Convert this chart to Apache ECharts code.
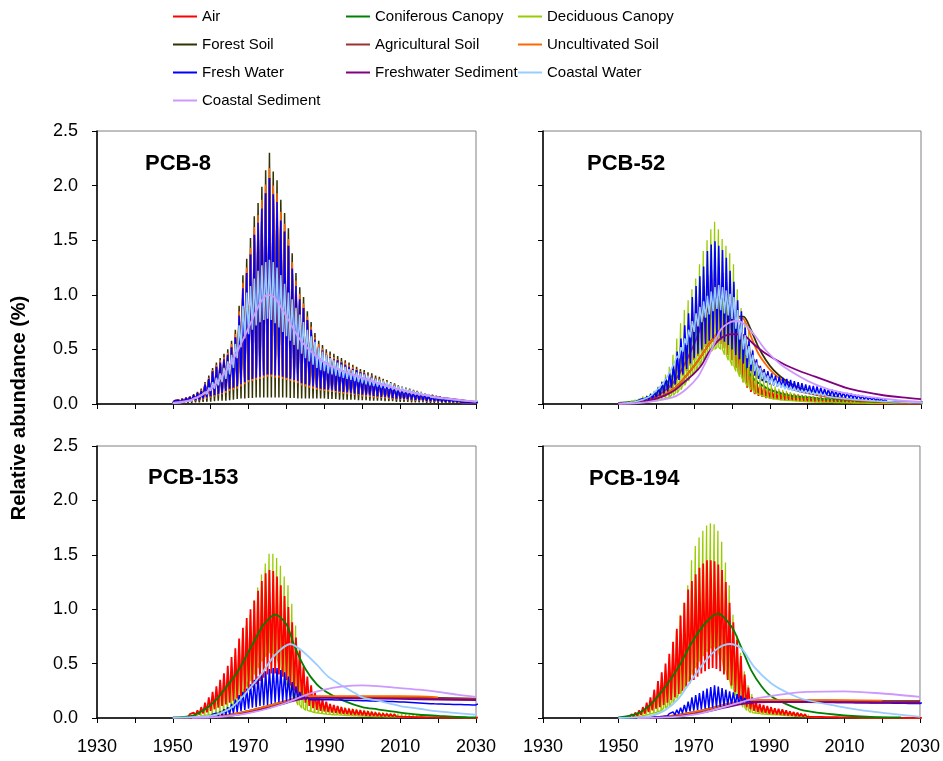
<!DOCTYPE html>
<html>
<head>
<meta charset="utf-8">
<script src="https://cdn.jsdelivr.net/npm/echarts@6/dist/echarts.min.js"></script>
<style>
  html, body { margin: 0; padding: 0; background: #fff; }
  #main { width: 943px; height: 761px; }
</style>
</head>
<body>
<div id="main"></div>
<script>
// compartments, in legend / drawing order
var NAMES = ['Air', 'Coniferous Canopy', 'Deciduous Canopy', 'Forest Soil', 'Agricultural Soil',
    'Uncultivated Soil', 'Fresh Water', 'Freshwater Sediment', 'Coastal Water', 'Coastal Sediment'];
var COLORS = ['#ff0000', '#008000', '#99cc00', '#333300', '#993333',
    '#ff6600', '#0000ff', '#800080', '#99ccff', '#cc99ff'];
var PANELS = ['PCB-8', 'PCB-52', 'PCB-153', 'PCB-194'];
var X_TICKS = [1930, 1950, 1970, 1990, 2010, 2030];

// seasonal series: yearly peak (HI) and trough (LO), 1950 ... 2030
var YEAR0 = 1950;

// ---- PCB-8 ----
var P8_FOREST_HI = [
    0.03,0.04,0.05,0.06,0.07,0.09,0.11,0.14,0.20,0.26,
    0.33,0.38,0.42,0.46,0.50,0.58,0.68,0.90,1.18,1.33,
    1.52,1.72,1.84,1.99,2.14,2.30,2.13,2.05,1.87,1.75,
    1.61,1.38,1.20,1.07,0.98,0.85,0.75,0.65,0.58,0.54,
    0.50,0.48,0.46,0.44,0.42,0.40,0.38,0.36,0.34,0.32,
    0.31,0.29,0.28,0.26,0.25,0.23,0.22,0.20,0.19,0.17,
    0.16,0.15,0.14,0.13,0.12,0.11,0.10,0.09,0.085,0.075,
    0.07,0.06,0.055,0.05,0.045,0.04,0.035,0.03,0.025,0.02,
    0.02];
var P8_FOREST_LO = [
    0.005,0.005,0.01,0.01,0.01,0.01,0.015,0.015,0.02,0.02,
    0.02,0.025,0.03,0.03,0.03,0.035,0.04,0.045,0.05,0.05,
    0.055,0.055,0.06,0.06,0.06,0.06,0.06,0.06,0.06,0.06,
    0.06,0.055,0.055,0.05,0.05,0.05,0.05,0.05,0.05,0.05,
    0.05,0.045,0.045,0.045,0.04,0.04,0.04,0.04,0.04,0.035,
    0.035,0.035,0.03,0.03,0.03,0.03,0.025,0.025,0.025,0.02,
    0.02,0.02,0.02,0.015,0.015,0.015,0.015,0.01,0.01,0.01,
    0.01,0.01,0.01,0.008,0.008,0.006,0.006,0.005,0.005,0.004,
    0.004];
var P8_UNCULT_HI = [
    0.03,0.04,0.05,0.06,0.07,0.08,0.10,0.13,0.19,0.24,
    0.31,0.36,0.40,0.43,0.47,0.55,0.64,0.85,1.11,1.25,
    1.43,1.62,1.73,1.87,2.01,2.16,2.00,1.93,1.76,1.65,
    1.51,1.30,1.13,1.01,0.92,0.80,0.71,0.61,0.55,0.51,
    0.47,0.45,0.43,0.41,0.39,0.38,0.36,0.34,0.32,0.30,
    0.29,0.27,0.26,0.24,0.23,0.22,0.21,0.19,0.18,0.16,
    0.15,0.14,0.13,0.12,0.11,0.10,0.095,0.085,0.08,0.07,
    0.065,0.055,0.05,0.045,0.04,0.035,0.03,0.028,0.024,0.02,
    0.018];
var P8_UNCULT_LO = [
    0.005,0.01,0.01,0.015,0.02,0.025,0.03,0.035,0.04,0.05,
    0.06,0.07,0.08,0.09,0.10,0.12,0.13,0.14,0.16,0.18,
    0.20,0.21,0.22,0.23,0.24,0.25,0.25,0.24,0.24,0.23,
    0.22,0.21,0.20,0.19,0.17,0.16,0.15,0.14,0.13,0.125,
    0.12,0.115,0.11,0.105,0.10,0.095,0.09,0.09,0.085,0.08,
    0.07,0.068,0.065,0.06,0.058,0.055,0.05,0.048,0.045,0.042,
    0.04,0.038,0.035,0.033,0.03,0.028,0.026,0.025,0.023,0.021,
    0.02,0.018,0.017,0.016,0.015,0.014,0.013,0.012,0.011,0.01,
    0.01];
var P8_FRESH_HI = [
    0.03,0.035,0.045,0.055,0.065,0.08,0.10,0.12,0.18,0.23,
    0.30,0.34,0.38,0.41,0.45,0.52,0.61,0.81,1.06,1.20,
    1.37,1.55,1.66,1.79,1.93,2.07,1.92,1.85,1.68,1.58,
    1.45,1.24,1.08,0.96,0.88,0.77,0.68,0.59,0.52,0.49,
    0.45,0.43,0.41,0.40,0.38,0.36,0.34,0.32,0.31,0.29,
    0.28,0.26,0.25,0.23,0.22,0.21,0.20,0.18,0.17,0.15,
    0.14,0.135,0.125,0.115,0.11,0.10,0.09,0.08,0.075,0.068,
    0.063,0.054,0.05,0.045,0.04,0.036,0.032,0.027,0.023,0.018,
    0.018];
var P8_FRESH_LO = [
    0.01,0.015,0.015,0.02,0.025,0.03,0.035,0.04,0.05,0.06,
    0.07,0.08,0.09,0.10,0.12,0.14,0.15,0.16,0.18,0.20,
    0.22,0.23,0.24,0.25,0.26,0.27,0.27,0.26,0.26,0.25,
    0.24,0.23,0.22,0.21,0.19,0.18,0.17,0.16,0.15,0.14,
    0.135,0.13,0.125,0.12,0.115,0.11,0.105,0.10,0.095,0.09,
    0.085,0.08,0.078,0.074,0.07,0.066,0.062,0.058,0.054,0.05,
    0.048,0.045,0.042,0.04,0.037,0.034,0.032,0.03,0.028,0.026,
    0.024,0.022,0.02,0.019,0.018,0.016,0.015,0.014,0.013,0.012,
    0.011];
var P8_COASTAL_HI = [
    0.01,0.015,0.02,0.03,0.04,0.05,0.06,0.08,0.11,0.15,
    0.20,0.24,0.28,0.33,0.39,0.45,0.55,0.72,0.90,1.02,
    1.08,1.15,1.22,1.27,1.30,1.32,1.30,1.25,1.18,1.10,
    1.02,0.96,0.88,0.82,0.75,0.68,0.62,0.57,0.52,0.48,
    0.45,0.42,0.40,0.38,0.36,0.34,0.32,0.31,0.29,0.28,
    0.27,0.26,0.24,0.23,0.22,0.21,0.20,0.19,0.17,0.16,
    0.15,0.14,0.13,0.12,0.11,0.105,0.095,0.09,0.08,0.075,
    0.07,0.065,0.06,0.055,0.05,0.045,0.04,0.035,0.033,0.03,
    0.03];
var P8_COASTAL_LO = [
    0.005,0.01,0.012,0.018,0.025,0.03,0.04,0.05,0.07,0.09,
    0.12,0.14,0.17,0.20,0.23,0.27,0.33,0.42,0.52,0.60,
    0.64,0.68,0.72,0.75,0.77,0.78,0.77,0.74,0.70,0.66,
    0.62,0.58,0.54,0.50,0.46,0.42,0.39,0.36,0.33,0.31,
    0.30,0.28,0.27,0.26,0.25,0.24,0.23,0.22,0.21,0.20,
    0.19,0.18,0.17,0.165,0.16,0.15,0.145,0.14,0.13,0.12,
    0.11,0.105,0.10,0.09,0.085,0.08,0.075,0.07,0.065,0.06,
    0.055,0.05,0.048,0.044,0.04,0.036,0.032,0.03,0.028,0.026,
    0.025];
var P8_COSED = [[1950,0.01],[1955,0.04],[1960,0.14],[1965,0.35],[1968,0.55],[1970,0.70],[1973,0.92],
    [1975,1.00],[1977,0.97],[1980,0.80],[1983,0.62],[1985,0.53],[1990,0.38],[1995,0.30],[2000,0.24],
    [2005,0.18],[2010,0.13],[2015,0.09],[2020,0.06],[2025,0.04],[2030,0.02]];

// ---- PCB-52 ----
var P52_DECID_HI = [
    0.01,0.015,0.02,0.03,0.04,0.05,0.07,0.08,0.10,0.12,
    0.16,0.21,0.27,0.34,0.45,0.60,0.74,0.86,0.95,1.05,
    1.15,1.28,1.40,1.50,1.60,1.67,1.60,1.51,1.45,1.38,
    1.28,1.05,0.88,0.76,0.66,0.50,0.36,0.30,0.25,0.21,
    0.18,0.16,0.14,0.13,0.12,0.11,0.10,0.09,0.085,0.08,
    0.075,0.07,0.065,0.06,0.055,0.05,0.045,0.04,0.038,0.035,
    0.032,0.03,0.028,0.026,0.024,0.022,0.02,0.018,0.017,0.016,
    0.015,0.014,0.013,0.012,0.011,0.01,0.01,0.009,0.009,0.008,
    0.008];
var P52_DECID_LO = [
    0.002,0.004,0.006,0.008,0.01,0.012,0.015,0.018,0.022,0.026,
    0.03,0.04,0.05,0.06,0.08,0.10,0.13,0.17,0.21,0.26,
    0.30,0.35,0.40,0.44,0.48,0.50,0.52,0.50,0.45,0.40,
    0.35,0.30,0.25,0.20,0.16,0.13,0.10,0.085,0.07,0.06,
    0.05,0.045,0.04,0.036,0.033,0.03,0.028,0.026,0.024,0.022,
    0.02,0.019,0.018,0.017,0.016,0.015,0.014,0.013,0.012,0.011,
    0.01,0.01,0.009,0.009,0.008,0.008,0.007,0.007,0.006,0.006,
    0.005,0.005,0.005,0.004,0.004,0.004,0.003,0.003,0.003,0.003,
    0.003];
var P52_FRESH_HI = [
    0.01,0.012,0.015,0.02,0.03,0.04,0.05,0.07,0.09,0.11,
    0.15,0.20,0.24,0.29,0.36,0.48,0.60,0.72,0.83,0.98,
    1.08,1.17,1.26,1.40,1.46,1.49,1.45,1.41,1.34,1.22,
    1.12,0.95,0.85,0.70,0.58,0.49,0.41,0.35,0.32,0.30,
    0.28,0.26,0.25,0.24,0.23,0.22,0.21,0.20,0.19,0.18,
    0.17,0.165,0.16,0.15,0.14,0.135,0.13,0.12,0.115,0.105,
    0.10,0.095,0.088,0.082,0.076,0.07,0.064,0.058,0.053,0.048,
    0.044,0.04,0.037,0.034,0.031,0.028,0.026,0.024,0.022,0.021,
    0.02];
var P52_FRESH_LO = [
    0.004,0.005,0.007,0.01,0.013,0.017,0.022,0.03,0.04,0.05,
    0.065,0.08,0.10,0.12,0.15,0.18,0.22,0.27,0.32,0.37,
    0.42,0.46,0.50,0.55,0.58,0.60,0.60,0.59,0.57,0.54,
    0.50,0.45,0.41,0.37,0.33,0.30,0.26,0.23,0.21,0.195,
    0.18,0.17,0.16,0.15,0.14,0.13,0.125,0.12,0.11,0.105,
    0.10,0.095,0.09,0.085,0.08,0.076,0.072,0.068,0.064,0.06,
    0.058,0.054,0.05,0.046,0.043,0.04,0.037,0.034,0.031,0.028,
    0.025,0.023,0.021,0.02,0.018,0.017,0.016,0.015,0.014,0.013,
    0.012];
var P52_AIR_HI = [
    0.01,0.012,0.015,0.02,0.028,0.036,0.045,0.06,0.08,0.10,
    0.13,0.17,0.21,0.26,0.32,0.42,0.53,0.62,0.72,0.84,
    0.93,1.01,1.08,1.18,1.23,1.26,1.24,1.20,1.12,1.00,
    0.90,0.72,0.60,0.45,0.34,0.27,0.22,0.19,0.17,0.15,
    0.14,0.13,0.12,0.11,0.10,0.095,0.09,0.085,0.08,0.075,
    0.07,0.066,0.062,0.058,0.054,0.05,0.047,0.044,0.041,0.038,
    0.035,0.033,0.031,0.029,0.027,0.025,0.023,0.021,0.02,0.019,
    0.018,0.017,0.016,0.015,0.014,0.013,0.012,0.011,0.011,0.01,
    0.01];
var P52_AIR_LO = [
    0.003,0.004,0.005,0.007,0.01,0.013,0.017,0.022,0.03,0.04,
    0.05,0.065,0.08,0.10,0.13,0.17,0.22,0.26,0.30,0.35,
    0.40,0.44,0.48,0.52,0.55,0.57,0.57,0.55,0.51,0.45,
    0.40,0.33,0.27,0.20,0.15,0.11,0.09,0.075,0.065,0.055,
    0.05,0.045,0.04,0.037,0.034,0.031,0.029,0.027,0.025,0.023,
    0.021,0.02,0.019,0.018,0.017,0.016,0.015,0.014,0.013,0.012,
    0.011,0.01,0.01,0.009,0.009,0.008,0.008,0.007,0.007,0.006,
    0.006,0.005,0.005,0.005,0.004,0.004,0.004,0.003,0.003,0.003,
    0.003];
var P52_COASTAL_HI = [
    0.005,0.008,0.012,0.017,0.024,0.032,0.045,0.06,0.08,0.11,
    0.14,0.18,0.23,0.29,0.36,0.44,0.52,0.60,0.68,0.76,
    0.83,0.89,0.94,0.99,1.03,1.07,1.09,1.07,1.04,1.01,
    0.98,0.86,0.74,0.63,0.53,0.45,0.38,0.33,0.29,0.26,
    0.24,0.22,0.20,0.185,0.17,0.16,0.15,0.14,0.13,0.125,
    0.12,0.11,0.105,0.10,0.093,0.087,0.081,0.075,0.07,0.065,
    0.06,0.056,0.052,0.048,0.045,0.042,0.039,0.036,0.034,0.032,
    0.03,0.028,0.026,0.024,0.022,0.021,0.02,0.018,0.017,0.016,
    0.015];
var P52_COASTAL_LO = [
    0.004,0.006,0.01,0.014,0.019,0.026,0.036,0.048,0.064,0.088,
    0.11,0.14,0.18,0.23,0.29,0.35,0.42,0.48,0.54,0.61,
    0.66,0.71,0.75,0.79,0.82,0.85,0.87,0.86,0.83,0.81,
    0.78,0.69,0.59,0.50,0.42,0.36,0.30,0.26,0.23,0.21,
    0.19,0.176,0.16,0.148,0.136,0.128,0.12,0.112,0.104,0.10,
    0.096,0.088,0.084,0.08,0.074,0.07,0.065,0.06,0.056,0.052,
    0.048,0.045,0.042,0.038,0.036,0.034,0.031,0.029,0.027,0.026,
    0.024,0.022,0.021,0.019,0.018,0.017,0.016,0.014,0.014,0.013,
    0.012];
var P52_CONIF = [[1950,0.01],[1955,0.03],[1960,0.10],[1965,0.30],[1970,0.62],[1973,0.82],[1976,0.92],
    [1979,0.85],[1982,0.55],[1984,0.32],[1986,0.22],[1988,0.17],[1990,0.13],[1995,0.08],[2000,0.06],
    [2005,0.045],[2010,0.033],[2020,0.015],[2030,0.008]];
var P52_FOREST = [[1950,0.005],[1955,0.02],[1960,0.05],[1965,0.15],[1970,0.35],[1975,0.60],[1978,0.72],
    [1981,0.80],[1983,0.80],[1985,0.68],[1987,0.52],[1989,0.40],[1991,0.31],[1994,0.22],[1997,0.16],
    [2000,0.12],[2005,0.08],[2010,0.05],[2020,0.02],[2030,0.01]];
var P52_AGRI = [[1950,0.005],[1955,0.02],[1960,0.07],[1965,0.22],[1970,0.55],[1973,0.82],[1976,0.98],
    [1979,0.92],[1982,0.70],[1985,0.45],[1988,0.30],[1990,0.24],[1995,0.15],[2000,0.10],[2010,0.04],
    [2020,0.02],[2030,0.01]];
var P52_UNCULT = [[1950,0.005],[1955,0.02],[1960,0.05],[1965,0.15],[1970,0.35],[1975,0.60],[1978,0.72],
    [1981,0.79],[1983,0.78],[1985,0.62],[1987,0.46],[1989,0.36],[1991,0.28],[1994,0.20],[1997,0.15],
    [2000,0.11],[2005,0.07],[2010,0.045],[2020,0.02],[2030,0.01]];
var P52_FWSED = [[1950,0.005],[1955,0.015],[1958,0.03],[1961,0.06],[1963,0.09],[1965,0.13],[1967,0.19],
    [1970,0.28],[1972,0.36],[1974,0.48],[1977,0.60],[1980,0.64],[1983,0.63],[1986,0.54],[1989,0.46],
    [1994,0.36],[1998,0.30],[2002,0.25],[2006,0.20],[2010,0.15],[2015,0.11],[2020,0.08],[2025,0.06],
    [2030,0.045]];
var P52_COSED = [[1950,0.002],[1955,0.008],[1960,0.03],[1965,0.07],[1968,0.14],[1971,0.25],[1973,0.38],
    [1975,0.53],[1977,0.68],[1979,0.74],[1981,0.76],[1983,0.74],[1986,0.63],[1989,0.49],[1993,0.36],
    [1998,0.25],[2002,0.18],[2006,0.13],[2010,0.10],[2015,0.07],[2020,0.05],[2025,0.03],[2030,0.02]];

// ---- PCB-153 ----
var P153_AIR_HI = [
    0.005,0.01,0.015,0.025,0.035,0.05,0.07,0.10,0.14,0.19,
    0.24,0.29,0.35,0.41,0.48,0.56,0.64,0.73,0.83,0.92,
    1.00,1.08,1.17,1.26,1.33,1.36,1.35,1.30,1.22,1.12,
    1.02,0.88,0.74,0.62,0.48,0.38,0.30,0.24,0.20,0.17,
    0.15,0.13,0.12,0.11,0.10,0.09,0.085,0.08,0.075,0.07,
    0.065,0.06,0.055,0.05,0.045,0.042,0.039,0.036,0.033,0.03,
    0.028,0.026,0.024,0.022,0.02,0.018,0.016,0.015,0.014,0.013,
    0.012,0.011,0.01,0.009,0.008,0.008,0.007,0.007,0.006,0.006,
    0.005];
var P153_AIR_LO = [
    0.002,0.003,0.005,0.008,0.012,0.017,0.024,0.032,0.042,0.052,
    0.065,0.08,0.095,0.11,0.125,0.14,0.16,0.18,0.20,0.22,
    0.25,0.28,0.31,0.34,0.37,0.40,0.41,0.41,0.40,0.38,
    0.35,0.30,0.25,0.21,0.17,0.14,0.11,0.09,0.075,0.065,
    0.06,0.055,0.05,0.045,0.04,0.037,0.034,0.031,0.028,0.026,
    0.024,0.022,0.02,0.019,0.018,0.017,0.016,0.015,0.014,0.013,
    0.012,0.011,0.01,0.009,0.008,0.007,0.007,0.006,0.006,0.005,
    0.005,0.004,0.004,0.004,0.003,0.003,0.003,0.003,0.002,0.002,
    0.002];
var P153_DECID_HI = [
    0.003,0.005,0.008,0.012,0.018,0.026,0.036,0.05,0.07,0.09,
    0.12,0.16,0.20,0.25,0.32,0.40,0.50,0.62,0.74,0.85,
    0.95,1.08,1.20,1.32,1.42,1.51,1.51,1.47,1.40,1.30,
    1.22,1.05,0.85,0.64,0.44,0.32,0.26,0.22,0.19,0.17,
    0.15,0.13,0.12,0.11,0.105,0.10,0.095,0.09,0.085,0.08,
    0.075,0.07,0.066,0.062,0.058,0.054,0.05,0.047,0.044,0.041,
    0.038,0.035,0.032,0.03,0.028,0.026,0.024,0.022,0.02,0.018,
    0.016,0.015,0.014,0.013,0.012,0.011,0.01,0.009,0.008,0.008,
    0.007];
var P153_DECID_LO = [
    0.001,0.002,0.003,0.005,0.007,0.01,0.014,0.018,0.023,0.028,
    0.035,0.045,0.055,0.07,0.085,0.10,0.13,0.17,0.22,0.28,
    0.34,0.40,0.46,0.52,0.56,0.60,0.60,0.56,0.48,0.38,
    0.30,0.22,0.16,0.12,0.09,0.07,0.06,0.05,0.045,0.04,
    0.036,0.033,0.03,0.028,0.026,0.024,0.022,0.02,0.019,0.018,
    0.017,0.016,0.015,0.014,0.013,0.012,0.011,0.01,0.01,0.009,
    0.009,0.008,0.008,0.007,0.007,0.006,0.006,0.005,0.005,0.005,
    0.004,0.004,0.004,0.003,0.003,0.003,0.003,0.002,0.002,0.002,
    0.002];
var P153_FRESH_HI = [
    0.002,0.003,0.004,0.006,0.008,0.01,0.013,0.017,0.022,0.028,
    0.035,0.045,0.06,0.08,0.10,0.13,0.17,0.21,0.24,0.27,
    0.31,0.35,0.38,0.41,0.43,0.45,0.46,0.46,0.44,0.42,
    0.38,0.33,0.29,0.24,0.21,0.19,0.185,0.18,0.18,0.18,
    0.18,0.18,0.18,0.178,0.176,0.175,0.174,0.173,0.172,0.171,
    0.17,0.169,0.168,0.167,0.166,0.165,0.164,0.163,0.162,0.16,
    0.158,0.156,0.154,0.152,0.15,0.148,0.146,0.144,0.142,0.14,
    0.139,0.138,0.137,0.136,0.135,0.134,0.133,0.132,0.131,0.13,
    0.13];
var P153_FRESH_LO = [
    0.001,0.001,0.002,0.003,0.004,0.005,0.006,0.008,0.01,0.012,
    0.015,0.018,0.022,0.026,0.03,0.035,0.045,0.055,0.065,0.075,
    0.085,0.095,0.10,0.11,0.115,0.12,0.13,0.14,0.145,0.15,
    0.155,0.16,0.165,0.17,0.17,0.17,0.17,0.168,0.168,0.168,
    0.168,0.168,0.167,0.166,0.165,0.164,0.163,0.162,0.161,0.16,
    0.159,0.158,0.157,0.156,0.155,0.154,0.153,0.152,0.151,0.15,
    0.148,0.146,0.144,0.142,0.14,0.138,0.136,0.134,0.132,0.13,
    0.129,0.128,0.127,0.126,0.125,0.124,0.123,0.122,0.121,0.12,
    0.12];
var P153_CONIF = [[1950,0.005],[1955,0.02],[1958,0.07],[1960,0.12],[1962,0.19],[1964,0.28],[1967,0.42],
    [1970,0.61],[1972,0.74],[1974,0.86],[1977,0.95],[1980,0.86],[1982,0.67],[1985,0.45],[1988,0.31],
    [1991,0.23],[1995,0.16],[2000,0.10],[2004,0.08],[2010,0.05],[2015,0.03],[2020,0.02],[2025,0.01],
    [2030,0.005]];
var P153_FOREST = [[1950,0],[1955,0.003],[1960,0.012],[1965,0.03],[1970,0.065],[1975,0.11],[1980,0.155],
    [1983,0.185],[1985,0.195],[1990,0.195],[2000,0.195],[2010,0.193],[2020,0.185],[2030,0.175]];
var P153_AGRI = [[1950,0],[1955,0.003],[1960,0.011],[1965,0.028],[1970,0.062],[1975,0.105],[1980,0.15],
    [1983,0.18],[1985,0.19],[1990,0.19],[2000,0.19],[2010,0.188],[2020,0.182],[2030,0.178]];
var P153_UNCULT = [[1950,0],[1955,0.003],[1960,0.012],[1965,0.03],[1970,0.065],[1975,0.11],[1980,0.16],
    [1983,0.19],[1985,0.20],[1990,0.20],[2000,0.20],[2010,0.20],[2015,0.198],[2020,0.19]];
var P153_FWSED = [[1955,0],[1960,0.005],[1965,0.02],[1970,0.05],[1975,0.09],[1980,0.14],[1985,0.18],
    [1990,0.185],[2000,0.18],[2010,0.175],[2020,0.17],[2030,0.165]];
var P153_COWAT = [[1950,0.002],[1955,0.008],[1960,0.02],[1963,0.05],[1966,0.11],[1970,0.26],[1973.5,0.41],
    [1977,0.58],[1981,0.68],[1984,0.62],[1988,0.49],[1991,0.38],[1995,0.29],[1998,0.23],[2000,0.19],
    [2004,0.16],[2010,0.11],[2015,0.085],[2020,0.06],[2025,0.045],[2030,0.03]];
var P153_COSED = [[1955,0.001],[1960,0.005],[1965,0.02],[1970,0.045],[1975,0.085],[1980,0.14],[1985,0.21],
    [1990,0.26],[1995,0.29],[2000,0.30],[2005,0.29],[2010,0.275],[2015,0.26],[2020,0.24],[2025,0.215],
    [2030,0.195]];

// ---- PCB-194 ----
var P194_AIR_HI = [
    0.005,0.01,0.02,0.035,0.05,0.07,0.10,0.14,0.19,0.26,
    0.34,0.42,0.50,0.59,0.70,0.82,0.94,1.06,1.18,1.26,
    1.32,1.38,1.42,1.45,1.45,1.44,1.41,1.36,1.25,1.06,
    0.88,0.72,0.57,0.40,0.28,0.19,0.15,0.13,0.12,0.11,
    0.10,0.09,0.085,0.08,0.07,0.06,0.055,0.05,0.04,0.035,
    0.03,0.028,0.026,0.024,0.022,0.02,0.019,0.018,0.017,0.016,
    0.015,0.014,0.013,0.012,0.011,0.01,0.009,0.008,0.007,0.006,
    0.005,0.005,0.004,0.004,0.003,0.003,0.003,0.002,0.002,0.002,
    0.002];
var P194_AIR_LO = [
    0.002,0.003,0.006,0.01,0.015,0.02,0.03,0.04,0.055,0.07,
    0.085,0.10,0.12,0.14,0.165,0.19,0.22,0.25,0.29,0.32,
    0.35,0.38,0.41,0.43,0.45,0.46,0.45,0.43,0.40,0.35,
    0.30,0.24,0.18,0.13,0.10,0.08,0.065,0.055,0.05,0.045,
    0.04,0.036,0.033,0.03,0.027,0.024,0.021,0.018,0.016,0.014,
    0.012,0.011,0.01,0.01,0.009,0.008,0.008,0.007,0.007,0.006,
    0.006,0.005,0.005,0.005,0.004,0.004,0.004,0.003,0.003,0.003,
    0.002,0.002,0.002,0.002,0.002,0.001,0.001,0.001,0.001,0.001,
    0.001];
var P194_DECID_HI = [
    0.003,0.006,0.012,0.02,0.03,0.045,0.065,0.09,0.13,0.19,
    0.27,0.35,0.43,0.52,0.64,0.80,0.95,1.06,1.22,1.45,
    1.58,1.66,1.72,1.77,1.79,1.78,1.72,1.62,1.43,1.22,
    0.95,0.76,0.60,0.43,0.30,0.22,0.15,0.12,0.11,0.10,
    0.09,0.085,0.08,0.075,0.065,0.06,0.055,0.05,0.04,0.035,
    0.03,0.028,0.026,0.024,0.022,0.02,0.018,0.016,0.014,0.012,
    0.011,0.01,0.009,0.008,0.007,0.006,0.005,0.005,0.004,0.004,
    0.003,0.003,0.003,0.002,0.002,0.002,0.002,0.001,0.001,0.001,
    0.001];
var P194_DECID_LO = [
    0.001,0.002,0.004,0.007,0.01,0.015,0.02,0.027,0.035,0.045,
    0.055,0.07,0.09,0.11,0.14,0.18,0.22,0.27,0.33,0.40,
    0.46,0.52,0.57,0.61,0.64,0.66,0.62,0.55,0.45,0.35,
    0.27,0.20,0.14,0.10,0.07,0.05,0.045,0.04,0.036,0.034,
    0.032,0.03,0.028,0.025,0.022,0.02,0.018,0.016,0.014,0.012,
    0.011,0.01,0.009,0.008,0.007,0.007,0.006,0.005,0.005,0.004,
    0.004,0.003,0.003,0.003,0.002,0.002,0.002,0.002,0.001,0.001,
    0.001,0.001,0.001,0.001,0.001,0.001,0.001,0,0,0,
    0];
var P194_FRESH_HI = [
    0,0.001,0.001,0.002,0.003,0.004,0.006,0.008,0.011,0.015,
    0.019,0.024,0.03,0.04,0.055,0.075,0.095,0.12,0.15,0.19,
    0.21,0.23,0.25,0.27,0.285,0.30,0.29,0.275,0.26,0.245,
    0.235,0.22,0.205,0.185,0.17,0.16,0.155,0.155,0.155,0.155,
    0.155,0.155,0.155,0.155,0.155,0.155,0.155,0.154,0.154,0.153,
    0.153,0.153,0.152,0.152,0.151,0.151,0.15,0.15,0.15,0.149,
    0.149,0.148,0.148,0.147,0.147,0.146,0.146,0.145,0.145,0.144,
    0.144,0.143,0.143,0.142,0.142,0.141,0.141,0.14,0.14,0.14,
    0.14];
var P194_FRESH_LO = [
    0,0,0,0.001,0.001,0.002,0.003,0.004,0.005,0.007,
    0.009,0.011,0.014,0.018,0.023,0.03,0.037,0.045,0.053,0.06,
    0.068,0.075,0.08,0.085,0.09,0.095,0.10,0.105,0.11,0.115,
    0.12,0.125,0.13,0.135,0.14,0.143,0.145,0.146,0.147,0.148,
    0.148,0.148,0.148,0.148,0.148,0.148,0.147,0.147,0.147,0.146,
    0.146,0.146,0.145,0.145,0.145,0.144,0.144,0.144,0.143,0.143,
    0.143,0.142,0.142,0.141,0.141,0.14,0.14,0.139,0.139,0.138,
    0.138,0.137,0.137,0.136,0.136,0.135,0.135,0.134,0.134,0.134,
    0.134];
var P194_CONIF = [[1950,0.005],[1955,0.04],[1958.7,0.13],[1962.3,0.28],[1966,0.47],[1969.4,0.69],
    [1973,0.87],[1976.4,0.96],[1980,0.84],[1982.6,0.65],[1985.2,0.44],[1988,0.29],[1990.5,0.20],
    [1995,0.12],[1999,0.07],[2008,0.03],[2017,0.01],[2025,0.005]];
var P194_FOREST = [[1955,0],[1960,0.008],[1965,0.024],[1970,0.053],[1975,0.092],[1980,0.135],[1985,0.16],
    [1990,0.16],[2000,0.16],[2010,0.158],[2020,0.156],[2030,0.155]];
var P194_AGRI = [[1955,0],[1960,0.007],[1965,0.022],[1970,0.05],[1975,0.09],[1980,0.135],[1985,0.16],
    [1990,0.16],[2000,0.16],[2010,0.158],[2020,0.155],[2030,0.152]];
var P194_UNCULT = [[1955,0],[1960,0.008],[1965,0.025],[1970,0.055],[1975,0.095],[1980,0.14],[1985,0.165],
    [1990,0.165],[2000,0.165],[2010,0.163],[2020,0.16]];
var P194_FWSED = [[1955,0],[1960,0.004],[1965,0.015],[1970,0.035],[1975,0.07],[1980,0.11],[1985,0.14],
    [1990,0.145],[2000,0.145],[2010,0.143],[2020,0.142],[2030,0.14]];
var P194_COWAT = [[1950,0],[1955,0.005],[1958.7,0.02],[1962.3,0.07],[1966,0.18],[1969.4,0.35],[1973,0.52],
    [1976.4,0.64],[1979.6,0.68],[1982.6,0.64],[1986,0.47],[1990.5,0.32],[1995,0.23],[1999.3,0.17],
    [2008,0.11],[2017,0.06],[2030,0.01]];
var P194_COSED = [[1955,0],[1960,0.003],[1965,0.01],[1970,0.03],[1975,0.07],[1980,0.12],[1985,0.17],
    [1990,0.20],[1995,0.225],[2000,0.24],[2010,0.245],[2020,0.225],[2030,0.195]];

// interleave yearly trough and peak
function osc(hi, lo) {
    var pts = [];
    for (var i = 0; i < hi.length; i++) {
        pts.push([YEAR0 + i, lo[i]]);
        pts.push([YEAR0 + i + 0.5, hi[i]]);
    }
    return pts;
}
// canopy: short summer peak just before the air peak, trough the rest of the year
function pulse(hi, lo) {
    var pts = [];
    for (var i = 0; i < hi.length; i++) {
        pts.push([YEAR0 + i, lo[i]]);
        pts.push([YEAR0 + i + 0.3, lo[i]]);
        pts.push([YEAR0 + i + 0.4, hi[i]]);
        pts.push([YEAR0 + i + 0.5, lo[i]]);
    }
    return pts;
}

// per panel, one data set per compartment (NAMES order); hidden compartments in PCB-8 lie under Fresh Water
var P8_FRESH = osc(P8_FRESH_HI, P8_FRESH_LO);
var PANEL_DATA = [
    [P8_FRESH, P8_FRESH, P8_FRESH, osc(P8_FOREST_HI, P8_FOREST_LO), P8_FRESH,
        osc(P8_UNCULT_HI, P8_UNCULT_LO), P8_FRESH, P8_COSED, osc(P8_COASTAL_HI, P8_COASTAL_LO), P8_COSED],
    [osc(P52_AIR_HI, P52_AIR_LO), P52_CONIF, pulse(P52_DECID_HI, P52_DECID_LO), P52_FOREST, P52_AGRI,
        P52_UNCULT, osc(P52_FRESH_HI, P52_FRESH_LO), P52_FWSED, osc(P52_COASTAL_HI, P52_COASTAL_LO), P52_COSED],
    [osc(P153_AIR_HI, P153_AIR_LO), P153_CONIF, pulse(P153_DECID_HI, P153_DECID_LO), P153_FOREST, P153_AGRI,
        P153_UNCULT, osc(P153_FRESH_HI, P153_FRESH_LO), P153_FWSED, P153_COWAT, P153_COSED],
    [osc(P194_AIR_HI, P194_AIR_LO), P194_CONIF, pulse(P194_DECID_HI, P194_DECID_LO), P194_FOREST, P194_AGRI,
        P194_UNCULT, osc(P194_FRESH_HI, P194_FRESH_LO), P194_FWSED, P194_COWAT, P194_COSED]
];

var FONT = 'Liberation Sans, Arial, sans-serif';
var GRIDS = [
    {left: 97, top: 131, width: 379, height: 273},
    {left: 543, top: 131, width: 378, height: 273},
    {left: 97, top: 446, width: 379, height: 272},
    {left: 543, top: 446, width: 378, height: 272}
];
var LABEL_POS = [[145, 153], [587, 153], [148, 467], [589, 468]];

function lineWidth(k, seasonal) {
    if (!seasonal) return 1.8;
    if (k === 0) return 1.8;   // air: dense spikes
    if (k === 2) return 1.3;   // deciduous: thin spikes
    return 1.5;
}

var grids = [], xAxes = [], yAxes = [], series = [], graphics = [];
GRIDS.forEach(function (g, p) {
    grids.push({left: g.left, top: g.top, width: g.width, height: g.height,
        show: true, borderColor: '#808080', borderWidth: 1, backgroundColor: '#fff'});
    xAxes.push({
        type: 'value', gridIndex: p, min: 1930, max: 2030, interval: 10,
        axisLine: {show: true, onZero: false, lineStyle: {color: '#000', width: 1.5}},
        axisTick: {show: true, inside: false, length: 5, lineStyle: {color: '#000'}},
        splitLine: {show: false},
        axisLabel: {
            show: p >= 2, margin: 20, color: '#000', fontSize: 18, fontFamily: FONT,
            formatter: function (v) { return X_TICKS.indexOf(v) >= 0 ? String(v) : ''; }
        }
    });
    yAxes.push({
        type: 'value', gridIndex: p, min: 0, max: 2.5, interval: 0.5,
        axisLine: {show: true, lineStyle: {color: '#000', width: 1.5}},
        axisTick: {show: true, inside: false, length: 5, lineStyle: {color: '#000'}},
        splitLine: {show: false},
        axisLabel: {
            show: p % 2 === 0, margin: 19, color: '#000', fontSize: 18, fontFamily: FONT,
            formatter: function (v) { return v.toFixed(1); }
        }
    });
    PANEL_DATA[p].forEach(function (d, k) {
        var seasonal = d.length > 100;
        // lower panels: deciduous canopy spikes sit behind the air band
        var z = (p >= 2 && k !== 2) ? 3 : 2;
        series.push({
            type: 'line', name: NAMES[k], xAxisIndex: p, yAxisIndex: p, z: z,
            data: d, symbol: 'none', showSymbol: false,
            smooth: seasonal ? false : 0.3,
            lineStyle: {color: COLORS[k], width: lineWidth(k, seasonal)},
            itemStyle: {color: COLORS[k]},
            silent: true
        });
    });
    graphics.push({
        type: 'text', left: LABEL_POS[p][0], top: LABEL_POS[p][1],
        style: {text: PANELS[p], font: 'bold 22px ' + FONT, fill: '#000'}
    });
});

graphics.push({
    type: 'text', x: 19, y: 408, rotation: Math.PI / 2,
    style: {text: 'Relative abundance (%)', font: 'bold 20px ' + FONT, fill: '#000',
        align: 'center', verticalAlign: 'middle'}
});

function legendCol(names, left) {
    return {
        data: names, left: left, top: 9, orient: 'vertical', itemGap: 13, padding: 0,
        icon: 'rect', itemWidth: 24, itemHeight: 2, selectedMode: false,
        textStyle: {fontSize: 15, fontFamily: FONT, color: '#000'}
    };
}

var chart = echarts.init(document.getElementById('main'), null, {renderer: 'canvas'});
chart.setOption({
    animation: false,
    backgroundColor: '#fff',
    legend: [
        legendCol(['Air', 'Forest Soil', 'Fresh Water', 'Coastal Sediment'], 173),
        legendCol(['Coniferous Canopy', 'Agricultural Soil', 'Freshwater Sediment'], 346),
        legendCol(['Deciduous Canopy', 'Uncultivated Soil', 'Coastal Water'], 518)
    ],
    grid: grids,
    xAxis: xAxes,
    yAxis: yAxes,
    series: series,
    graphic: graphics
});
</script>
</body>
</html>
